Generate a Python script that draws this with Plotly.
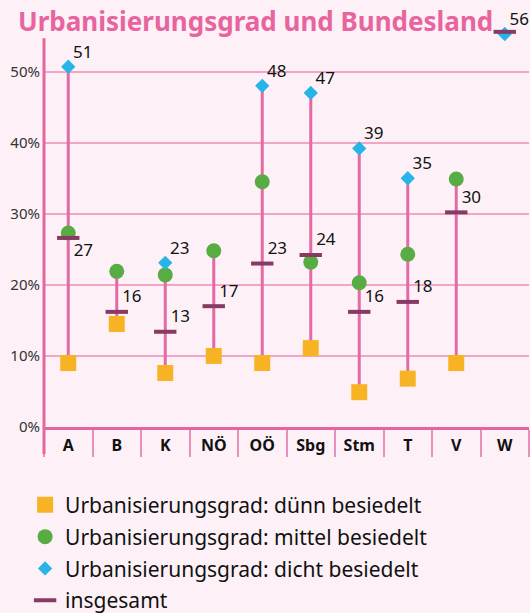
import plotly.graph_objects as go

# ---- data ----
categories = ["A", "B", "K", "NÖ", "OÖ", "Sbg", "Stm", "T", "V", "W"]
duenn = [9.0, 14.5, 7.6, 10.0, 9.0, 11.1, 4.9, 6.8, 9.0, None]
mittel = [27.3, 21.9, 21.4, 24.8, 34.5, 23.2, 20.3, 24.3, 34.9, None]
dicht = [50.7, None, 23.1, None, 48.0, 47.0, 39.2, 35.0, None, 55.3]
gesamt = [26.6, 16.2, 13.4, 17.0, 23.0, 24.2, 16.2, 17.6, 30.2, 55.6]
dicht_labels = ["51", "", "23", "", "48", "47", "39", "35", "", "56"]
gesamt_labels = ["27", "16", "13", "17", "23", "24", "16", "18", "30", ""]
y_ticks = [0, 10, 20, 30, 40, 50]
y_tick_labels = ["0%", "10%", "20%", "30%", "40%", "50%"]

series_names = [
    "Urbanisierungsgrad: dünn besiedelt",
    "Urbanisierungsgrad: mittel besiedelt",
    "Urbanisierungsgrad: dicht besiedelt",
    "insgesamt",
]
title_text = "Urbanisierungsgrad und Bundesland"

# ---- styles ----
BG = "#fdf1f7"
PINK = "#e3669f"
GRID = "#f3a5c8"
STEM = "#e46aa3"
ORANGE = "#f8b325"
GREEN = "#57ad44"
BLUE = "#27b4e6"
MAROON = "#873a62"
FONT = "Noto Sans"

Y_MAX = 56.0       # axis range top
Y_LINE_TOP = 54.7  # where the drawn y-axis line ends

# stems from min to max per category
stem_x, stem_y = [], []
for i, c in enumerate(categories):
    vals = [s[i] for s in (duenn, mittel, dicht, gesamt) if s[i] is not None]
    stem_x += [c, c, None]
    stem_y += [min(vals), max(vals), None]

fig = go.Figure()
fig.add_trace(go.Scatter(x=stem_x, y=stem_y, mode="lines",
                         line=dict(color=STEM, width=3),
                         showlegend=False, hoverinfo="skip", cliponaxis=False))

fig.add_trace(go.Scatter(x=categories, y=duenn, mode="markers", name=series_names[0],
                         marker=dict(symbol="square", size=16, color=ORANGE),
                         legendgroup="g1", cliponaxis=False))
fig.add_trace(go.Scatter(x=categories, y=mittel, mode="markers", name=series_names[1],
                         marker=dict(symbol="circle", size=15, color=GREEN),
                         legendgroup="g2", cliponaxis=False))
fig.add_trace(go.Scatter(x=categories, y=dicht, mode="markers", name=series_names[2],
                         marker=dict(symbol="diamond", size=11, color=BLUE),
                         legendgroup="g3", cliponaxis=False))
fig.add_trace(go.Scatter(x=categories, y=gesamt, mode="markers", name=series_names[3],
                         marker=dict(symbol="line-ew", size=16,
                                     line=dict(color=MAROON, width=4)),
                         legendgroup="g4", cliponaxis=False))

# value labels (invisible small markers set the text offset)
lab_font = dict(family=FONT, size=17, color="#111111")
fig.add_trace(go.Scatter(x=categories, y=dicht, mode="markers+text", text=dicht_labels,
                         textposition="top right", textfont=lab_font,
                         marker=dict(size=6, color="rgba(0,0,0,0)"),
                         showlegend=False, hoverinfo="skip", cliponaxis=False))
gpos = ["bottom right" if c == "A" else "top right" for c in categories]
fig.add_trace(go.Scatter(x=categories, y=gesamt, mode="markers+text", text=gesamt_labels,
                         textposition=gpos, textfont=lab_font,
                         marker=dict(size=7, color="rgba(0,0,0,0)"),
                         showlegend=False, hoverinfo="skip", cliponaxis=False))

M_T, M_B = 29, 186
plot_h = 613 - M_T - M_B

fig.update_layout(
    width=530, height=613,
    margin=dict(l=44, r=1, t=M_T, b=M_B, pad=0, autoexpand=False),
    paper_bgcolor=BG, plot_bgcolor=BG,
    font=dict(family=FONT, color="#111111"),
    showlegend=True,
    legend=dict(orientation="v", x=-0.039, xanchor="left", y=-0.145, yanchor="top",
                font=dict(family=FONT, size=21, color="#111111"),
                tracegroupgap=1.5, bgcolor="rgba(0,0,0,0)", itemwidth=30),
    xaxis=dict(type="category", categoryorder="array", categoryarray=categories,
               range=[-0.5, len(categories) - 0.5], automargin=False,
               showline=True, linecolor=PINK, linewidth=3,
               ticks="outside", tickson="boundaries", ticklen=27, tickwidth=1.5,
               tickcolor="#ea8fba", showgrid=False, zeroline=False,
               ticklabelstandoff=2,
               tickfont=dict(family=FONT, size=16, color="#111111", weight="bold")),
    yaxis=dict(range=[0, Y_MAX], tickvals=y_ticks, ticktext=y_tick_labels,
               automargin=False, showline=False,
               showgrid=True, gridcolor=GRID, gridwidth=1.5, zeroline=False,
               ticks="", ticklabelstandoff=3,
               tickfont=dict(family=FONT, size=15, color="#333333")),
    shapes=[dict(type="line", xref="paper", yref="paper", x0=0, x1=0,
                 y0=-27 / plot_h, y1=Y_LINE_TOP / Y_MAX,
                 line=dict(color=PINK, width=3))],
    annotations=[dict(text=title_text, xref="paper", yref="paper",
                      x=(255 - 44) / 485, y=1 + (M_T - 1) / plot_h,
                      xanchor="center", yanchor="top", showarrow=False,
                      font=dict(family=FONT, size=26, color="#e8649f", weight="bold"))],
)

fig.write_html("out.html", config={"displayModeBar": False},
               post_script="document.body.style.margin='0px';")
